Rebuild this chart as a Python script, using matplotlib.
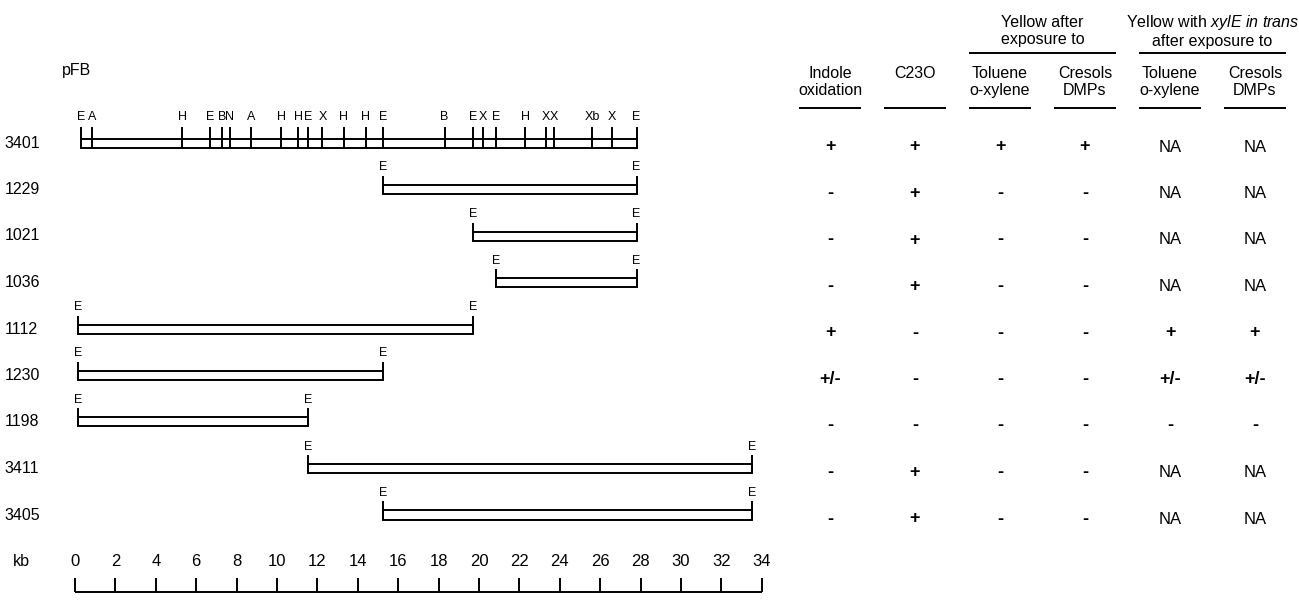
import matplotlib
matplotlib.use("Agg")
import matplotlib.pyplot as plt

plt.rcParams['font.family'] = ['Liberation Sans', 'DejaVu Sans']
plt.rcParams['mathtext.fontset'] = 'custom'
plt.rcParams['mathtext.rm'] = 'Liberation Sans'
plt.rcParams['mathtext.it'] = 'Liberation Sans:italic'

# plasmid fragments (kb)
plasmids = ['3401', '1229', '1021', '1036', '1112', '1230', '1198', '3411', '3405']
starts = [0.3, 15.25, 19.7, 20.85, 0.15, 0.15, 0.15, 11.55, 15.25]
ends = [27.8, 27.8, 27.8, 27.8, 19.7, 15.25, 11.55, 33.5, 33.5]

# restriction sites on pFB3401
site_pos = [0.3, 0.85, 5.3, 6.7, 7.3, 7.65, 8.7, 10.2, 11.05, 11.55, 12.25, 13.3,
            14.4, 15.25, 18.3, 19.7, 20.2, 20.85, 22.3, 23.3, 23.7, 25.6, 26.6, 27.8]
site_lab = ['E', 'A', 'H', 'E', 'B', 'N', 'A', 'H', 'H', 'E', 'X', 'H',
            'H', 'E', 'B', 'E', 'X', 'E', 'H', 'X', 'X', 'Xb', 'X', 'E']

scale_ticks = list(range(0, 35, 2))

# phenotype table
col_heads = ['Indole\noxidation', 'C23O', 'Toluene\no-xylene', 'Cresols\nDMPs',
             'Toluene\no-xylene', 'Cresols\nDMPs']
indole = ['+', '-', '-', '-', '+', '+/-', '-', '-', '-']
c23o = ['+', '+', '+', '+', '-', '-', '-', '+', '+']
yellow_tol = ['+', '-', '-', '-', '-', '-', '-', '-', '-']
yellow_cres = ['+', '-', '-', '-', '-', '-', '-', '-', '-']
trans_tol = ['NA', 'NA', 'NA', 'NA', '+', '+/-', '-', 'NA', 'NA']
trans_cres = ['NA', 'NA', 'NA', 'NA', '+', '+/-', '-', 'NA', 'NA']
table_cols = [indole, c23o, yellow_tol, yellow_cres, trans_tol, trans_cres]
group_heads = ['Yellow after\nexposure to',
               'Yellow with $\\mathit{xylE\\ in\\ trans}$\nafter exposure to']
group_cols = [(2, 3), (4, 5)]

W, H = 1299, 609
X0, PX_KB = 75, 20.2        # pixel of 0 kb, pixels per kb
Y0, PX_ROW = 143, 46.5      # pixel of first row, pixels per row
C0, PX_COL = 830, 85        # pixel of first table column, pixels per column

fig = plt.figure(figsize=(W / 100, H / 100), dpi=100)
ylim = ((H - Y0) / PX_ROW, -Y0 / PX_ROW)

ax = fig.add_axes([0, 0, 1, 1])
ax.set_xlim(-X0 / PX_KB, (W - X0) / PX_KB)
ax.set_ylim(*ylim)
ax.axis('off')

bh = 9 / PX_ROW
lw = 1.4
fs = 11.5
fs_site = 9

# fragment bars with EcoRI ends
rows = list(range(len(plasmids)))
ax.barh(rows, [e - s for s, e in zip(starts, ends)], left=starts, height=bh,
        fill=False, edgecolor='black', linewidth=lw)
for i, (s, e) in enumerate(zip(starts, ends)):
    ax.text(-3.5, i, plasmids[i], ha='left', va='center', fontsize=fs)
    if i == 0:
        continue
    ax.vlines([s, e], i + bh / 2, i - bh / 2 - 9 / PX_ROW, color='black', linewidth=lw)
    for x in (s, e):
        ax.text(x, i - 22 / PX_ROW, 'E', ha='center', va='center', fontsize=fs_site)

# full map sites
ax.vlines(site_pos, bh / 2, -bh / 2 - 12 / PX_ROW, color='black', linewidth=lw)
for x, lab in zip(site_pos, site_lab):
    ax.text(x, -26 / PX_ROW, lab, ha='center', va='center', fontsize=fs_site)

ax.text(-13 / PX_KB, (70 - Y0) / PX_ROW, 'pFB', ha='left', va='center', fontsize=fs)

# kb scale
sy = (592 - Y0) / PX_ROW
ax.hlines(sy, scale_ticks[0], scale_ticks[-1], color='black', linewidth=lw)
ax.vlines(scale_ticks, sy, sy - 14 / PX_ROW, color='black', linewidth=lw)
for t in scale_ticks:
    ax.text(t, (562 - Y0) / PX_ROW, str(t), ha='center', va='center', fontsize=12)
ax.text(-62 / PX_KB, (562 - Y0) / PX_ROW, 'kb', ha='left', va='center', fontsize=fs)

# table
at = fig.add_axes([0, 0, 1, 1])
at.set_xlim(-C0 / PX_COL, (W - C0) / PX_COL)
at.set_ylim(*ylim)
at.axis('off')

ul = (108 - Y0) / PX_ROW
for j, head in enumerate(col_heads):
    yh = (82 - Y0) / PX_ROW if '\n' in head else (73 - Y0) / PX_ROW
    at.text(j, yh, head, ha='center', va='center', fontsize=fs, linespacing=1.2)
    at.hlines(ul, j - 0.37, j + 0.37, color='black', linewidth=lw)
    for i, v in enumerate(table_cols[j]):
        if v == 'NA':
            at.text(j, i + 4 / PX_ROW, v, ha='center', va='center', fontsize=12)
        else:
            at.text(j, i + 4 / PX_ROW, v, ha='center', va='center', fontsize=13,
                    fontweight='bold')

gl = (53 - Y0) / PX_ROW
for head, (a, b) in zip(group_heads, group_cols):
    mid = (a + b) / 2
    at.text(mid, (31 - Y0) / PX_ROW, head, ha='center', va='center', fontsize=fs,
            linespacing=1.15)
    at.hlines(gl, mid - 0.87, mid + 0.87, color='black', linewidth=lw)

fig.savefig('out.png', dpi=100, facecolor='white')
